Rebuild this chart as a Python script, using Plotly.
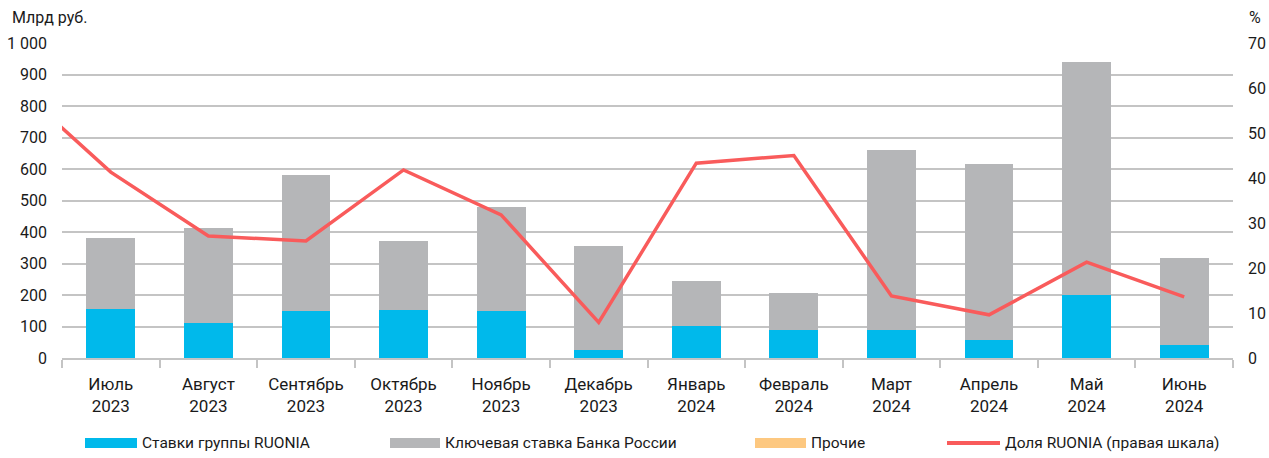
import plotly.graph_objects as go

# Monthly categories (July 2023 - June 2024)
months = ["Июль<br>2023", "Август<br>2023", "Сентябрь<br>2023", "Октябрь<br>2023",
          "Ноябрь<br>2023", "Декабрь<br>2023", "Январь<br>2024", "Февраль<br>2024",
          "Март<br>2024", "Апрель<br>2024", "Май<br>2024", "Июнь<br>2024"]

# Volumes, bn RUB
ruonia_group = [155, 110, 148, 152, 149, 26, 103, 90, 89, 57, 200, 41]
key_rate = [226, 303, 433, 219, 330, 330, 141, 116, 571, 559, 740, 276]
other = [0, 0, 0, 0, 0, 0, 0, 0, 0, 0, 0, 0]

# RUONIA share, % (first value is June 2023, left of the visible range)
share_months_idx = [-1, 0, 1, 2, 3, 4, 5, 6, 7, 8, 9, 10, 11]
ruonia_share = [61.0, 41.3, 27.1, 26.0, 41.8, 31.8, 7.9, 43.3, 45.0, 13.8, 9.6, 21.3, 13.6]

left_ticks = [0, 100, 200, 300, 400, 500, 600, 700, 800, 900, 1000]
left_tick_text = ["0", "100", "200", "300", "400", "500", "600", "700", "800", "900", "1 000"]
right_ticks = [0, 10, 20, 30, 40, 50, 60, 70]

series_names = ["Ставки группы RUONIA", "Ключевая ставка Банка России", "Прочие",
                "Доля RUONIA (правая шкала)"]

C_CYAN = "#00B9EB"
C_GREY = "#B5B6B8"
C_ORANGE = "#FDC880"
C_RED = "#F95B5B"
GRID = "#C4C4C4"
TXT = "#1A1A1A"
FONT = "Roboto"

ML, MR, MT, MB = 62, 36, 43, 100
W, H = 1269, 458

x = list(range(len(months)))

fig = go.Figure()
fig.add_trace(go.Bar(x=x, y=ruonia_group, name=series_names[0], marker_color=C_CYAN,
                     marker_line_width=0, width=0.5, showlegend=False))
fig.add_trace(go.Bar(x=x, y=key_rate, name=series_names[1], marker_color=C_GREY,
                     marker_line_width=0, width=0.5, showlegend=False))
fig.add_trace(go.Bar(x=x, y=other, name=series_names[2], marker_color=C_ORANGE,
                     marker_line_width=0, width=0.5, showlegend=False))
fig.add_trace(go.Scatter(x=share_months_idx, y=ruonia_share, name=series_names[3],
                         mode="lines", line=dict(color=C_RED, width=3.5),
                         yaxis="y2", showlegend=False))

fig.update_layout(
    width=W, height=H,
    margin=dict(l=ML, r=MR, t=MT, b=MB, autoexpand=False),
    paper_bgcolor="white", plot_bgcolor="white",
    barmode="stack",
    font=dict(family=FONT, size=16, color=TXT),
    xaxis=dict(
        range=[-0.5, 11.5], tickmode="array", tickvals=x, ticktext=months,
        ticks="", showgrid=False, zeroline=False, automargin=False,
        showline=True, linecolor=GRID, linewidth=1.5, ticklabelstandoff=10,
        tickfont=dict(size=17, color=TXT),
        minor=dict(tickmode="array", tickvals=[i - 0.5 for i in range(13)],
                   ticks="outside", ticklen=8, tickwidth=1.5, tickcolor=GRID,
                   showgrid=False),
    ),
    yaxis=dict(
        range=[0, 1000], tickmode="array", tickvals=left_ticks, ticktext=left_tick_text,
        showgrid=True, gridcolor=GRID, gridwidth=1.5, zeroline=False, automargin=False,
        showline=False, ticks="", ticklabelstandoff=14,
        tickfont=dict(size=16, color=TXT),
    ),
    yaxis2=dict(
        range=[0, 70], tickmode="array", tickvals=right_ticks,
        overlaying="y", side="right", showgrid=False, zeroline=False, automargin=False,
        showline=False, ticks="", ticklabelstandoff=14,
        tickfont=dict(size=16, color=TXT),
    ),
)

plot_w = W - ML - MR
plot_h = H - MT - MB


def px_to_paper_x(px):
    return (px - ML) / plot_w


def px_to_paper_y(py):
    return (H - MB - py) / plot_h


# Axis unit captions
fig.add_annotation(text="Млрд руб.", xref="paper", yref="paper", x=px_to_paper_x(10),
                   y=px_to_paper_y(17), xanchor="left", yanchor="middle", showarrow=False,
                   font=dict(size=16, color=TXT))
fig.add_annotation(text="%", xref="paper", yref="paper", x=px_to_paper_x(1247),
                   y=px_to_paper_y(17), xanchor="left", yanchor="middle",
                   showarrow=False, font=dict(size=16, color=TXT))

# Legend row drawn below the axis
legend_y = px_to_paper_y(443)
swatch_x = [(85, 137), (390, 440), (755, 806), (947, 1000)]
swatch_colors = [C_CYAN, C_GREY, C_ORANGE, C_RED]
for i, (name, (x0, x1), col) in enumerate(zip(series_names, swatch_x, swatch_colors)):
    px0 = px_to_paper_x(x0)
    px1 = px_to_paper_x(x1)
    if i < 3:
        fig.add_shape(type="rect", xref="paper", yref="paper", x0=px0, x1=px1,
                      y0=px_to_paper_y(448), y1=px_to_paper_y(438),
                      fillcolor=col, line_width=0)
    else:
        fig.add_shape(type="line", xref="paper", yref="paper", x0=px0, x1=px1,
                      y0=legend_y, y1=legend_y, line=dict(color=col, width=4))
    fig.add_annotation(text=name, xref="paper", yref="paper", x=px1, y=legend_y,
                       xanchor="left", yanchor="middle", xshift=3, showarrow=False,
                       font=dict(size=15.5, color=TXT))

fig.write_html("out.html")
